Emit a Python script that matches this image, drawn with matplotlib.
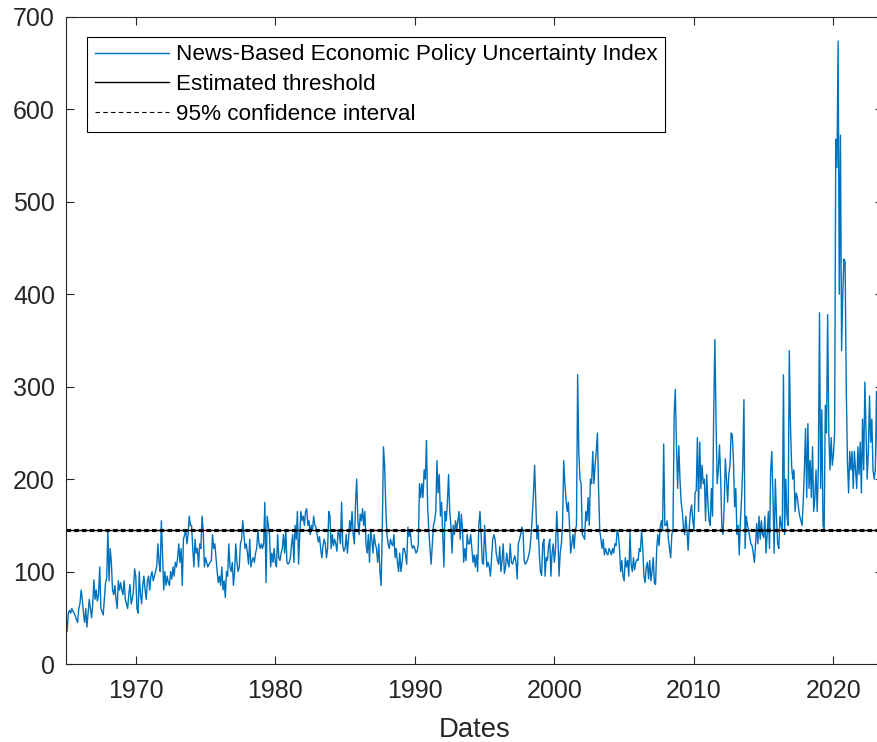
import numpy as np
import matplotlib
matplotlib.use("Agg")
import matplotlib.pyplot as plt

plt.rcParams["font.family"] = ["Liberation Sans", "DejaVu Sans"]

# monthly News-Based EPU index, Jan 1965 onwards
epu_1965_74 = [
    50, 35, 55, 58, 55, 60, 57, 55, 52, 48, 45, 60,
    65, 80, 70, 55, 45, 60, 40, 55, 70, 60, 50, 65,
    91, 70, 80, 68, 75, 105, 60, 57, 53, 70, 88, 93,
    145, 90, 125, 110, 80, 75, 85, 70, 60, 90, 80, 88,
    80, 75, 90, 70, 65, 60, 75, 86, 65, 70, 80, 103,
    95, 60, 55, 100, 75, 65, 85, 95, 80, 70, 90, 95,
    80, 95, 100, 90, 95, 100, 105, 130, 110, 100, 155, 120,
    80, 100, 85, 95, 88, 85, 100, 92, 105, 95, 110, 105,
    115, 130, 110, 125, 85, 135, 140, 145, 130, 140, 160, 150,
    150, 125, 105, 135, 120, 125, 105, 130, 125, 160, 145, 105,
]
epu_1975_84 = [
    115, 110, 105, 108, 110, 112, 140, 125, 130, 115, 100, 88,
    95, 85, 105, 80, 90, 72, 100, 95, 130, 105, 100, 110,
    85, 100, 130, 110, 100, 105, 130, 135, 155, 140, 125, 130,
    120, 108, 135, 105, 112, 115, 110, 120, 125, 145, 130, 125,
    130, 125, 130, 175, 88, 160, 150, 140, 105, 120, 110, 125,
    110, 105, 140, 115, 112, 120, 125, 140, 120, 145, 110, 108,
    110, 115, 130, 140, 110, 150, 135, 165, 108, 140, 165, 155,
    160, 150, 165, 168, 150, 155, 140, 150, 145, 160, 150, 148,
    140, 132, 138, 125, 115, 128, 135, 130, 115, 125, 165, 160,
    125, 140, 128, 135, 130, 122, 145, 140, 130, 175, 128, 122,
]
epu_1985_94 = [
    125, 140, 120, 135, 155, 145, 165, 140, 130, 175, 200, 155,
    140, 162, 155, 168, 150, 165, 130, 120, 140, 110, 145, 135,
    120, 140, 130, 125, 110, 130, 100, 85, 145, 235, 215, 170,
    140, 130, 125, 135, 130, 128, 140, 115, 125, 110, 100, 120,
    100, 110, 125, 125, 118, 108, 148, 138, 145, 130, 125, 128,
    125, 120, 122, 130, 195, 180, 195, 180, 210, 200, 242, 170,
    145, 125, 108, 130, 150, 155, 165, 220, 185, 205, 160, 175,
    140, 105, 165, 155, 175, 205, 165, 150, 120, 150, 140, 155,
    145, 155, 165, 135, 162, 145, 110, 125, 112, 140, 130, 130,
    140, 125, 110, 118, 105, 118, 100, 150, 165, 140, 110, 108,
]
epu_1995_04 = [
    150, 125, 105, 110, 105, 95, 115, 135, 140, 135, 120, 112,
    108, 127, 100, 112, 130, 98, 105, 120, 110, 105, 130, 110,
    108, 113, 117, 110, 92, 130, 135, 140, 148, 145, 112, 108,
    110, 113, 118, 125, 140, 160, 185, 215, 175, 135, 150, 120,
    100, 96, 130, 135, 95, 115, 112, 128, 135, 95, 120, 130,
    110, 125, 165, 140, 95, 120, 130, 150, 220, 195, 178, 165,
    175, 150, 120, 130, 140, 125, 145, 150, 313, 230, 200, 195,
    140, 138, 135, 165, 155, 180, 150, 200, 195, 230, 195, 215,
    230, 250, 190, 145, 135, 125, 135, 118, 125, 120, 118, 125,
    122, 118, 125, 120, 130, 128, 145, 140, 125, 100, 112, 95,
]
epu_2005_14 = [
    90, 115, 105, 112, 95, 142, 108, 100, 115, 102, 110, 113,
    112, 125, 122, 145, 125, 95, 88, 105, 110, 92, 112, 90,
    100, 115, 88, 86, 125, 140, 128, 148, 155, 145, 238, 150,
    150, 155, 135, 125, 115, 140, 145, 270, 297, 235, 190, 236,
    200, 175, 165, 148, 140, 160, 145, 123, 148, 165, 172, 155,
    145, 185, 188, 245, 165, 240, 190, 215, 195, 200, 155, 205,
    175, 155, 150, 190, 160, 270, 351, 265, 195, 210, 237, 200,
    148, 140, 170, 222, 200, 175, 205, 215, 250, 248, 220, 170,
    190, 140, 150, 118, 155, 180, 215, 286, 125, 160, 150, 145,
    137, 130, 128, 120, 110, 130, 152, 130, 160, 135, 155, 140,
]
epu_2015_23 = [
    137, 160, 120, 140, 165, 125, 210, 230, 180, 120, 200, 160,
    130, 125, 160, 150, 145, 313, 140, 200, 160, 150, 339, 260,
    215, 200, 210, 165, 185, 180, 168, 160, 155, 150, 175, 210,
    255, 180, 260, 190, 220, 180, 235, 165, 180, 210, 165, 212,
    380, 190, 275, 150, 145, 280, 250, 378, 250, 210, 245, 215,
    227, 250, 568, 537, 674, 400, 572, 339, 400, 438, 435, 300,
    220, 185, 230, 210, 230, 190, 230, 210, 190, 235, 205, 240,
    185, 265, 210, 305, 250, 200, 230, 290, 240, 265, 210, 200,
    210, 295, 220, 270,
]

threshold = 145.0
ci_low, ci_high = 144.3, 145.6

epu = np.array(epu_1965_74 + epu_1975_84 + epu_1985_94
               + epu_1995_04 + epu_2005_14 + epu_2015_23, dtype=float)
dates = 1965 + np.arange(len(epu)) / 12.0

fig = plt.figure(figsize=(8.78, 7.42), dpi=100)
# right edge of the box sits just outside the canvas, as in the original
ax = fig.add_axes([66 / 878, 1 - 664 / 742, (883 - 66) / 878, (664 - 17) / 742])

ax.plot(dates, epu, color="#0072BD", lw=1.0,
        label="News-Based Economic Policy Uncertainty Index")
ax.axhline(threshold, color="black", lw=1.0, label="Estimated threshold")
ax.axhline(ci_low, color="black", lw=0.8, ls=(0, (4, 3)),
           label="95% confidence interval")
ax.axhline(ci_high, color="black", lw=0.8, ls=(0, (4, 3)))

ax.set_xlim(1965, 2023.55)
ax.set_ylim(0, 700)
ax.set_xticks(range(1970, 2030, 10))
ax.set_yticks(range(0, 800, 100))
ax.set_xlabel("Dates", fontsize=19.8, color="#262626", labelpad=10)

dark = "#262626"
for sp in ax.spines.values():
    sp.set_color(dark)
    sp.set_linewidth(0.8)
ax.tick_params(direction="in", length=6, width=0.8, colors=dark,
               labelsize=18, top=True, right=True)
ax.tick_params(axis="x", pad=11)
ax.tick_params(axis="y", pad=8)

leg = ax.legend(loc="upper left", bbox_to_anchor=(0.0258, 0.969),
                borderaxespad=0, fontsize=16.2, handlelength=3.3,
                handletextpad=0.3, labelspacing=0.39, borderpad=0.33,
                fancybox=False, framealpha=1, edgecolor="black")
leg.get_frame().set_linewidth(0.8)

fig.savefig("out.png", dpi=100)
